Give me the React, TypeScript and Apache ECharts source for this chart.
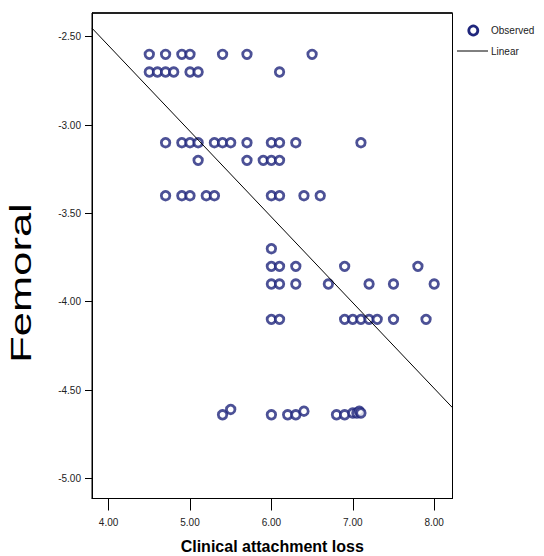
import React, { useEffect, useRef } from "react";
import * as echarts from "echarts";

// Observed points grouped by Femoral value (rows of the scatter)
const rowFemoral = [-2.6, -2.7, -3.1, -3.2, -3.4, -3.7, -3.8, -3.9, -4.1];
const rowLoss = [
  [4.5, 4.7, 4.9, 5.0, 5.4, 5.7, 6.5],
  [4.5, 4.6, 4.7, 4.8, 5.0, 5.1, 6.1],
  [4.7, 4.9, 5.0, 5.1, 5.3, 5.4, 5.5, 5.7, 6.0, 6.1, 6.3, 7.1],
  [5.1, 5.7, 5.9, 6.0, 6.1],
  [4.7, 4.9, 5.0, 5.2, 5.3, 6.0, 6.1, 6.4, 6.6],
  [6.0],
  [6.0, 6.1, 6.3, 6.9, 7.8],
  [6.0, 6.1, 6.3, 6.7, 7.2, 7.5, 8.0],
  [6.0, 6.1, 6.9, 7.0, 7.1, 7.2, 7.3, 7.5, 7.9],
];
// Bottom cluster (individual points)
const bottomLoss = [5.4, 5.5, 6.0, 6.2, 6.3, 6.4, 6.8, 6.9, 7.0, 7.05, 7.08, 7.1];
const bottomFemoral = [-4.64, -4.61, -4.64, -4.64, -4.64, -4.62, -4.64, -4.64, -4.63, -4.63, -4.62, -4.63];

// Linear fit endpoints
const fitLoss = [3.796, 8.225];
const fitFemoral = [-2.452, -4.6];

// Axes
const xTicks = [4, 5, 6, 7, 8];
const yTicks = [-5, -4.5, -4, -3.5, -3, -2.5];
const xRange = [3.796, 8.225];
const yRange = [-5.114, -2.366];

const FONT = "'Liberation Sans', Arial, sans-serif";
const NAVY = "#1f267c";

export default function App() {
  const ref = useRef<HTMLDivElement>(null);

  useEffect(() => {
    if (!ref.current) return;
    const chart = echarts.init(ref.current, null, { renderer: "svg" });

    const observed: number[][] = [];
    rowFemoral.forEach((f, i) => rowLoss[i].forEach((x) => observed.push([x, f])));
    bottomLoss.forEach((x, i) => observed.push([x, bottomFemoral[i]]));
    const fit = fitLoss.map((x, i) => [x, fitFemoral[i]]);

    chart.setOption({
      animation: false,
      backgroundColor: "#ffffff",
      grid: {
        left: 92,
        right: 91.5,
        top: 13,
        bottom: 57.5,
        show: true,
        borderColor: "#000",
        borderWidth: 1,
        containLabel: false,
        outerBoundsMode: "none",
      },
      xAxis: {
        type: "value",
        min: xRange[0],
        max: xRange[1],
        name: "Clinical attachment loss",
        nameLocation: "middle",
        nameGap: 40,
        nameTextStyle: { fontFamily: FONT, fontSize: 16, fontWeight: "bold", color: "#000" },
        axisLine: { show: true, lineStyle: { color: "#000", width: 1 } },
        axisTick: { show: true, customValues: xTicks, length: 12, lineStyle: { color: "#000" } },
        axisLabel: {
          customValues: xTicks,
          formatter: (v: number) => v.toFixed(2),
          margin: 19,
          fontFamily: FONT,
          fontSize: 10,
          color: "#222",
        },
        splitLine: { show: false },
      },
      yAxis: {
        type: "value",
        min: yRange[0],
        max: yRange[1],
        axisLine: { show: true, lineStyle: { color: "#000", width: 1 } },
        axisTick: { show: true, customValues: yTicks, length: 7, lineStyle: { color: "#000" } },
        axisLabel: {
          customValues: yTicks,
          formatter: (v: number) => v.toFixed(2),
          margin: 11,
          fontFamily: FONT,
          fontSize: 10,
          color: "#222",
        },
        splitLine: { show: false },
      },
      series: [
        {
          name: "Observed",
          type: "scatter",
          data: observed,
          symbol: "circle",
          symbolSize: 8.5,
          itemStyle: { color: "#ffffff", borderColor: NAVY, borderWidth: 2.8 },
          z: 2,
        },
        {
          name: "Linear",
          type: "line",
          data: fit,
          symbol: "none",
          lineStyle: { color: "#000", width: 1 },
          z: 3,
        },
      ],
      graphic: [
        {
          type: "line",
          shape: { x1: 92, y1: 13, x2: 452.5, y2: 13 },
          style: { stroke: "#222", lineWidth: 2 },
        },
        {
          type: "text",
          x: 21,
          y: 283,
          rotation: Math.PI / 2,
          scaleX: 1.45,
          style: {
            text: "Femoral",
            fontFamily: FONT,
            fontSize: 30,
            fill: "#000",
            align: "center",
            verticalAlign: "middle",
            textAlign: "center",
            textVerticalAlign: "middle",
          },
        },
        {
          type: "circle",
          shape: { cx: 473.3, cy: 30.5, r: 4.5 },
          style: { fill: "#fff", stroke: NAVY, lineWidth: 2.8 },
        },
        {
          type: "text",
          x: 491,
          y: 30,
          style: {
            text: "Observed",
            fontFamily: FONT,
            fontSize: 10,
            fill: "#222",
            verticalAlign: "middle",
            textVerticalAlign: "middle",
          },
        },
        {
          type: "line",
          shape: { x1: 457, y1: 51, x2: 488, y2: 51 },
          style: { stroke: "#000", lineWidth: 1 },
        },
        {
          type: "text",
          x: 491,
          y: 51,
          style: {
            text: "Linear",
            fontFamily: FONT,
            fontSize: 10,
            fill: "#222",
            verticalAlign: "middle",
            textVerticalAlign: "middle",
          },
        },
      ],
    });

    return () => chart.dispose();
  }, []);

  return (
    <div
      ref={ref}
      style={{ position: "fixed", left: 0, top: 0, width: 544, height: 556, background: "#fff" }}
    />
  );
}
